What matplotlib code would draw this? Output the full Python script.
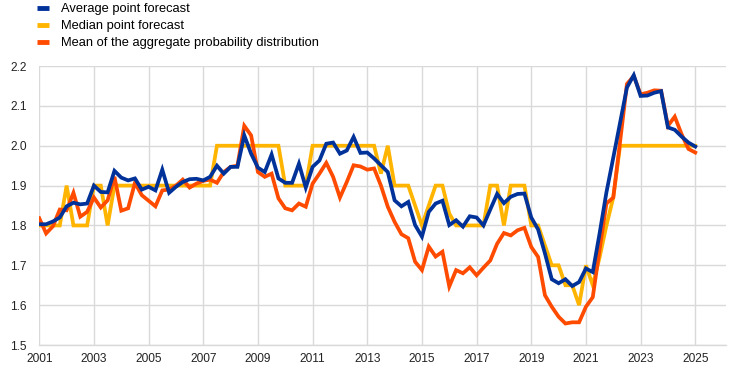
import numpy as np
import matplotlib
matplotlib.use("Agg")
import matplotlib.pyplot as plt

plt.rcParams['font.family'] = ['Liberation Sans', 'DejaVu Sans']

# quarterly observations, 2001Q1 .. 2025Q1
start_year = 2001
average_point = [
    1.803, 1.803, 1.810, 1.820, 1.848, 1.857, 1.853, 1.855,
    1.900, 1.884, 1.883, 1.937, 1.920, 1.913, 1.918, 1.890,
    1.897, 1.888, 1.940, 1.882, 1.897, 1.909, 1.916, 1.917,
    1.913, 1.922, 1.950, 1.930, 1.947, 1.947, 2.026, 1.980,
    1.945, 1.934, 1.978, 1.918, 1.907, 1.907, 1.955, 1.895,
    1.947, 1.963, 2.005, 2.008, 1.980, 1.988, 2.022, 1.982,
    1.983, 1.968, 1.951, 1.934, 1.863, 1.848, 1.859, 1.801,
    1.772, 1.834, 1.855, 1.862, 1.801, 1.813, 1.797, 1.823,
    1.820, 1.800, 1.840, 1.879, 1.856, 1.872, 1.879, 1.880,
    1.820, 1.790, 1.730, 1.665, 1.655, 1.665, 1.648, 1.658,
    1.692, 1.683, 1.780, 1.883, 1.970, 2.058, 2.146, 2.177,
    2.125, 2.126, 2.133, 2.137, 2.046, 2.040, 2.023, 2.008,
    1.998,
]
median_point = [
    1.80, 1.80, 1.80, 1.80, 1.90, 1.80, 1.80, 1.80,
    1.90, 1.90, 1.80, 1.90, 1.90, 1.90, 1.90, 1.90,
    1.90, 1.90, 1.90, 1.90, 1.90, 1.90, 1.90, 1.90,
    1.90, 1.90, 2.00, 2.00, 2.00, 2.00, 2.00, 2.00,
    2.00, 2.00, 2.00, 2.00, 1.90, 1.90, 1.90, 1.90,
    2.00, 2.00, 2.00, 2.00, 2.00, 2.00, 2.00, 2.00,
    2.00, 2.00, 1.93, 2.00, 1.90, 1.90, 1.90, 1.85,
    1.80, 1.85, 1.90, 1.90, 1.83, 1.80, 1.80, 1.80,
    1.80, 1.80, 1.90, 1.90, 1.80, 1.90, 1.90, 1.90,
    1.80, 1.80, 1.75, 1.70, 1.70, 1.65, 1.65, 1.60,
    1.70, 1.65, 1.72, 1.80, 1.87, 2.00, 2.00, 2.00,
    2.00, 2.00, 2.00, 2.00, 2.00, 2.00, 2.00, 2.00,
    2.00,
]
mean_distribution = [
    1.818, 1.780, 1.798, 1.840, 1.838, 1.882, 1.822, 1.834,
    1.870, 1.845, 1.863, 1.922, 1.837, 1.843, 1.907, 1.876,
    1.862, 1.848, 1.888, 1.890, 1.900, 1.915, 1.895, 1.905,
    1.912, 1.915, 1.907, 1.934, 1.947, 1.950, 2.050, 2.026,
    1.934, 1.922, 1.930, 1.868, 1.843, 1.838, 1.855, 1.847,
    1.905, 1.930, 1.957, 1.922, 1.870, 1.909, 1.951, 1.948,
    1.940, 1.943, 1.900, 1.847, 1.809, 1.778, 1.768, 1.709,
    1.688, 1.747, 1.722, 1.734, 1.647, 1.688, 1.680, 1.695,
    1.675, 1.694, 1.712, 1.754, 1.781, 1.775, 1.788, 1.794,
    1.746, 1.721, 1.625, 1.596, 1.571, 1.554, 1.557, 1.557,
    1.596, 1.620, 1.740, 1.855, 1.870, 2.010, 2.155, 2.175,
    2.129, 2.133, 2.139, 2.138, 2.050, 2.073, 2.029, 1.992,
    1.983,
]
year_ticks = list(range(2001, 2026, 2))
labels = ["Average point forecast", "Median point forecast",
          "Mean of the aggregate probability distribution"]
colors = ["#003299", "#FFB400", "#FF4B00"]

t = start_year + np.arange(len(average_point)) / 4.0

fig = plt.figure(figsize=(7.44, 3.73), dpi=100)
ax = fig.add_axes([0.0528, 0.075, 0.9232, 0.748])

lw = 2.7
h_med, = ax.plot(t, median_point, color=colors[1], lw=lw, zorder=3, solid_joinstyle='miter')
h_mean, = ax.plot(t, mean_distribution, color=colors[2], lw=lw, zorder=4, solid_joinstyle='miter')
h_avg, = ax.plot(t, average_point, color=colors[0], lw=lw, zorder=5, solid_joinstyle='miter')

ax.set_xlim(2001, 2026.13)
ax.set_ylim(1.5, 2.2)
ax.set_xticks(year_ticks)
ax.set_xticklabels([str(y) for y in year_ticks])
ax.set_yticks(np.round(np.arange(1.5, 2.21, 0.1), 1))
ax.set_yticklabels([f"{v:.1f}" for v in np.arange(1.5, 2.21, 0.1)])

ax.grid(True, color="#d9d9d9", lw=1.0, zorder=0)
for s in ["top", "right", "left"]:
    ax.spines[s].set_visible(False)
ax.spines["bottom"].set_color("#d9d9d9")
ax.spines["bottom"].set_linewidth(1.0)
ax.tick_params(axis="both", length=0, labelsize=8.6, colors="#222222")
ax.tick_params(axis="y", pad=9)
ax.tick_params(axis="x", pad=6)

leg = ax.legend([h_avg, h_med, h_mean], labels, loc="lower left",
                bbox_to_anchor=(-0.003, 1.06), frameon=False, fontsize=9.3,
                handlelength=0.9, handletextpad=0.95, labelspacing=0.38,
                borderaxespad=0, borderpad=0)
for line in leg.get_lines():
    line.set_linewidth(3.5)
    line.set_solid_capstyle("butt")

fig.savefig("out.png", dpi=100)
